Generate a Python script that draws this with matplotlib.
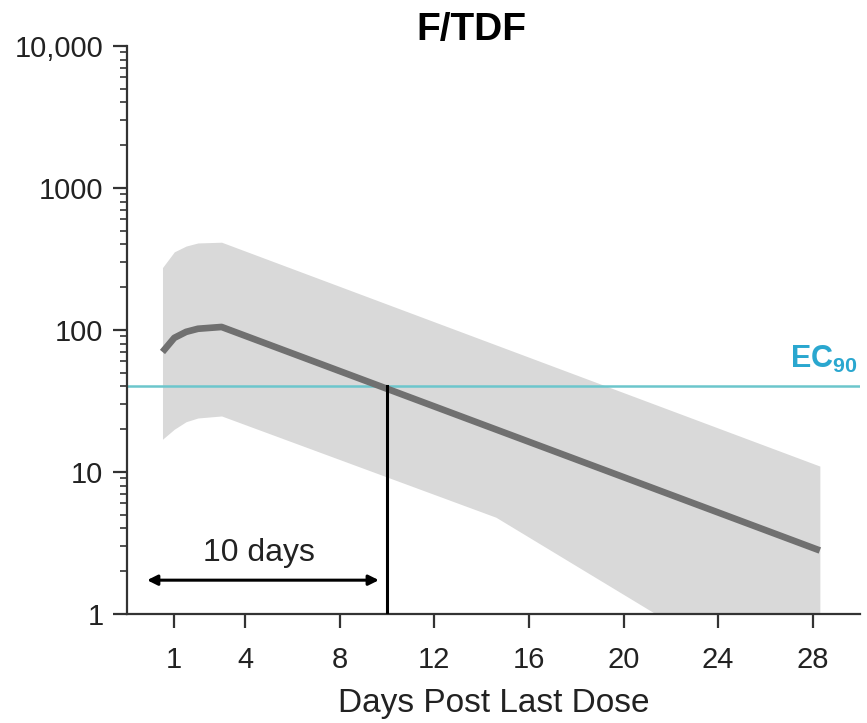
import numpy as np
import matplotlib.pyplot as plt

plt.rcParams["font.family"] = ["Liberation Sans", "DejaVu Sans"]
plt.rcParams["mathtext.fontset"] = "custom"
plt.rcParams["mathtext.bf"] = "Liberation Sans:bold"
plt.rcParams["mathtext.rm"] = "Liberation Sans"

# median concentration curve
med_days = [0.5, 1.0, 1.5, 2.0, 3.0, 28.3]
med_vals = [70, 88, 97, 102, 105, 2.8]

# prediction band
band_days = [0.5, 1.0, 1.5, 2.0, 3.0, 14.6, 28.3]
band_upper = [275, 355, 390, 410, 415, 60, 11.0]
band_lower = [17, 20, 22.6, 24, 24.8, 4.8, 0.2]

ec90 = 40
cross_day = 10
xticks = [1, 4, 8, 12, 16, 20, 24, 28]
yticks = [1, 10, 100, 1000, 10000]
ylabels = ["1", "10", "100", "1000", "10,000"]

# upper band is straight in log space from day 3 to the end
up_interp = np.interp(14.6, [3.0, 28.3], np.log10([415, 11.0]))
band_upper[5] = 10 ** up_interp

fig = plt.figure(figsize=(8.67, 7.23), dpi=100)
ax = fig.add_axes([0.1465, 0.1508, 0.8455, 0.7856])

ax.fill_between(band_days, band_lower, band_upper, color="#d9d9d9", lw=0, zorder=1)
ax.plot(med_days, med_vals, color="#707070", lw=4.8, solid_capstyle="butt", zorder=3)
ax.axhline(ec90, color="#6cc6cc", lw=1.8, zorder=2)
ax.plot([cross_day, cross_day], [1, ec90], color="black", lw=2.2, zorder=4)

ax.annotate("", xy=(-0.15, 1.73), xytext=(9.65, 1.73),
            arrowprops=dict(arrowstyle="<|-|>", color="black", lw=2.2,
                            mutation_scale=15, shrinkA=0, shrinkB=0))
ax.text(4.6, 2.7, "10 days", fontsize=23, ha="center", va="center", color="#222222")
ax.text(29.9, 48, r"EC$_{\mathbf{90}}$", fontsize=22, fontweight="bold",
        color="#2aa7cf", ha="right", va="bottom")

ax.set_yscale("log")
ax.set_ylim(1, 10000)
ax.set_xlim(-1, 30)
ax.set_yticks(yticks)
ax.set_yticklabels(ylabels)
ax.set_xticks(xticks)
ax.set_xlabel("Days Post Last Dose", fontsize=24, labelpad=10, color="#222222")
fig.text(471 / 867, 1 - 30 / 723, "F/TDF", fontsize=28, fontweight="bold",
         ha="center", va="center")

for s in ["top", "right"]:
    ax.spines[s].set_visible(False)
for s in ["left", "bottom"]:
    ax.spines[s].set_linewidth(1.6)
    ax.spines[s].set_color("#333333")

ax.tick_params(axis="both", which="major", length=10, width=1.6, color="#333333",
               labelsize=21, labelcolor="#222222")
ax.tick_params(axis="x", pad=13)
ax.tick_params(axis="y", pad=7)
ax.tick_params(axis="y", which="minor", length=5, width=1.2, color="#333333")

plt.savefig("out.png", dpi=100)
